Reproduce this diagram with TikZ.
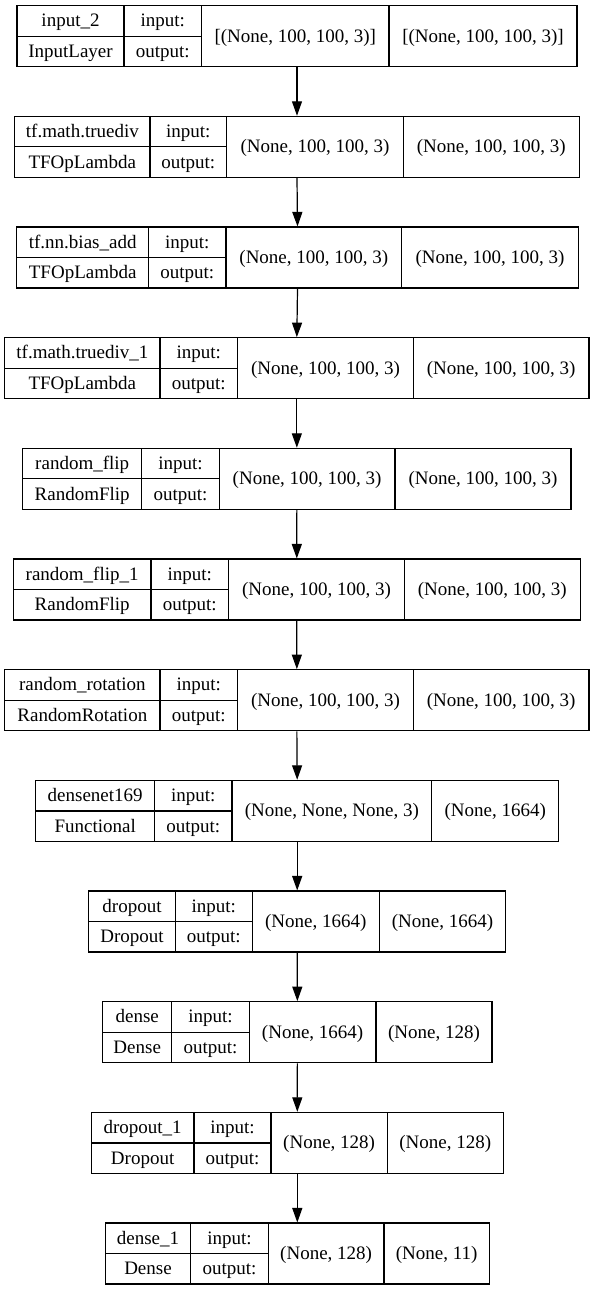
\documentclass[tikz,border=0pt]{standalone}
\usepackage{fontspec}
\setmainfont{Liberation Serif}
\usetikzlibrary{arrows.meta}
\tikzset{
  layerbox/.style={draw=black, line width=1.2pt, inner sep=0pt, minimum height=61pt},
  cellline/.style={draw=black, line width=1.2pt},
  txt/.style={anchor=base, inner sep=0pt, font=\fontsize{19}{22}\selectfont},
  flow/.style={draw=black, line width=1.2pt, -{Triangle[length=14.5pt,width=10pt]}},
}
\newcommand\layer[9]{%
  \def\Lk{#1}\def\LL{#2}\def\LA{#3}\def\LB{#4}\def\LC{#5}\def\LR{#6}%
  \def\Lname{#7}\def\Lclass{#8}\def\Lin{#9}\layerfinish}
\newcommand\layerfinish[1]{%
  \pgfmathsetmacro\T{5.7+110.67*(\Lk-1)}%
  \pgfmathsetmacro\B{\T+61}%
  \pgfmathsetmacro\M{\T+30.5}%
  \pgfmathsetmacro\W{\LR-\LL}%
  \pgfmathsetmacro\X{(\LL+\LR)/2}%
  \node[layerbox, minimum width=\W pt] (b\Lk) at (\X,\M) {};
  \draw[cellline] (\LA,\T) -- (\LA,\B) (\LB,\T) -- (\LB,\B) (\LC,\T) -- (\LC,\B) (\LL,\M) -- (\LB,\M);
  \node[txt] (nm\Lk) at ({(\LL+\LA)/2},{\T+21.25}) {\Lname};
  \node[txt] (cl\Lk) at ({(\LL+\LA)/2},{\T+51.75}) {\Lclass};
  \node[txt] (il\Lk) at ({(\LA+\LB)/2},{\T+21.25}) {input:};
  \node[txt] (ol\Lk) at ({(\LA+\LB)/2},{\T+51.75}) {output:};
  \node[txt] (is\Lk) at ({(\LB+\LC)/2},{\T+36.5}) {\Lin};
  \node[txt] (os\Lk) at ({(\LC+\LR)/2},{\T+36.5}) {#1};
}
\begin{document}
\begin{tikzpicture}[x=1pt,y=-1pt]
\fill[white] (0,0) rectangle (595,1291);
\useasboundingbox (0,0) rectangle (595,1291);
\layer{1}{17}{124}{201.5}{389}{577}{input\_2}{InputLayer}{[(None, 100, 100, 3)]}{[(None, 100, 100, 3)]}
\layer{2}{14.7}{150}{226.7}{403.3}{579.3}{tf.math.truediv}{TFOpLambda}{(None, 100, 100, 3)}{(None, 100, 100, 3)}
\layer{3}{16.7}{148.7}{226}{401.7}{578.3}{tf.nn.bias\_add}{TFOpLambda}{(None, 100, 100, 3)}{(None, 100, 100, 3)}
\layer{4}{4.7}{160}{237.7}{413.3}{589}{tf.math.truediv\_1}{TFOpLambda}{(None, 100, 100, 3)}{(None, 100, 100, 3)}
\layer{5}{22.7}{141.7}{219.3}{395}{571}{random\_flip}{RandomFlip}{(None, 100, 100, 3)}{(None, 100, 100, 3)}
\layer{6}{13.3}{151}{228.7}{404.3}{580.3}{random\_flip\_1}{RandomFlip}{(None, 100, 100, 3)}{(None, 100, 100, 3)}
\layer{7}{4.7}{160}{237.7}{413.3}{589}{random\_rotation}{RandomRotation}{(None, 100, 100, 3)}{(None, 100, 100, 3)}
\layer{8}{35.7}{154.7}{232}{431.7}{558.7}{densenet169}{Functional}{(None, None, None, 3)}{(None, 1664)}
\layer{9}{88.7}{175.3}{252.3}{379.3}{505.7}{dropout}{Dropout}{(None, 1664)}{(None, 1664)}
\layer{10}{102.7}{171.7}{249.3}{376}{492}{dense}{Dense}{(None, 1664)}{(None, 128)}
\layer{11}{91.3}{194}{271}{387.3}{503.3}{dropout\_1}{Dropout}{(None, 128)}{(None, 128)}
\layer{12}{105.3}{190.7}{268.3}{384}{489.3}{dense\_1}{Dense}{(None, 128)}{(None, 11)}
\foreach \k [evaluate=\k as \n using int(\k+1)] in {1,...,11}
  \draw[flow] (b\k.south) -- (b\n.north);
\end{tikzpicture}
\end{document}
